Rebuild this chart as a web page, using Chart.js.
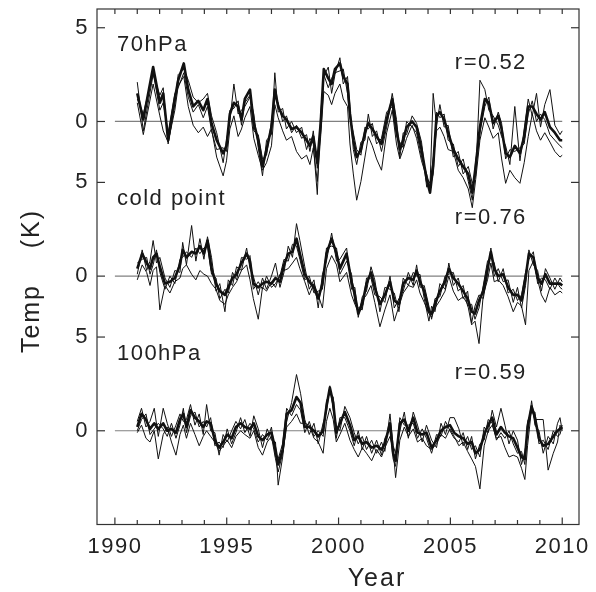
<!DOCTYPE html>
<html>
<head>
<meta charset="utf-8">
<script src="https://cdn.jsdelivr.net/npm/chart.js@4.4.0/dist/chart.umd.min.js"></script>
<style>
  body { margin: 0; background: #fff; }
  #caja { width: 596px; height: 592px; }
</style>
</head>
<body>
<div id="caja"><canvas id="grafico" width="596" height="592"></canvas></div>
<script>
// años de las marcas del eje x y del eje y
const xTicks = [1990, 1995, 2000, 2005, 2010];
const panelNames = ['70hPa', 'cold point', '100hPa'];
const rLabels = ['r=0.52', 'r=0.76', 'r=0.59'];
const panelOffsets = [16.5, 8.25, 0];
const yTickVals = [0, 5, 8.25, 13.25, 16.5, 21.5];
const yTickLabels = ['0', '5', '0', '5', '0', '5'];

// 70hPa
const t70 = [1991.00,1991.27,1991.71,1992.01,1992.16,1992.38,1992.68,1992.83,1993.08,1993.28,
  1993.50,1993.73,1993.95,1994.14,1994.32,1994.55,1994.84,1994.99,1995.14,1995.32,
  1995.51,1995.66,1995.81,1996.04,1996.21,1996.41,1996.60,1996.78,1997.00,1997.15,
  1997.30,1997.50,1997.67,1997.90,1998.12,1998.35,1998.57,1998.72,1998.87,1999.05,
  1999.20,1999.34,1999.54,1999.69,1999.84,2000.06,2000.21,2000.40,2000.51,2000.66,
  2000.81,2001.00,2001.18,2001.33,2001.51,2001.70,2001.92,2002.15,2002.40,2002.59,
  2002.74,2002.89,2003.04,2003.29,2003.49,2003.71,2003.94,2004.09,2004.23,2004.38,
  2004.53,2004.72,2004.90,2005.13,2005.35,2005.57,2005.80,2005.98,2006.13,2006.32,
  2006.54,2006.72,2006.91,2007.14,2007.29,2007.47,2007.66,2007.88,2008.11,2008.30,
  2008.48,2008.66,2008.85,2009.03,2009.22,2009.45,2009.67,2009.90,2010.00];
const thick70 = [1.5,0.1,2.9,1.0,1.5,-1.0,1.2,2.2,3.1,1.7,
  0.8,1.1,0.6,1.2,-0.1,-1.0,-1.7,-1.3,0.4,1.0,
  0.8,0.1,1.2,1.7,-0.1,-1.0,-2.4,-1.5,-0.3,1.7,
  0.8,0.3,0.1,-0.4,-0.3,-0.6,-1.0,-1.3,-0.8,-2.2,
  -0.1,2.8,2.3,2.0,2.8,3.1,2.4,2.0,0.4,-1.0,
  -1.9,-1.5,-0.6,-0.1,-0.4,-0.8,-1.2,0.1,1.2,-0.4,
  -1.5,-1.0,-0.3,0.0,-0.3,-1.5,-3.1,-3.8,-2.4,0.3,
  0.5,0.1,-0.6,-1.5,-2.0,-2.4,-2.8,-3.8,-2.4,-0.3,
  1.2,1.0,-0.1,0.3,-0.4,-1.7,-1.9,-1.3,-1.7,-0.8,
  0.8,0.8,0.4,0.1,0.5,-0.3,-0.6,-1.0,-1.0];
const thinA70 = [2.1,-0.5,2.5,1.4,1.8,-1.2,1.0,2.5,2.8,2.2,
  1.3,1.0,1.2,1.5,0.3,-0.6,-2.2,-1.0,0.0,2.0,
  0.4,0.6,0.8,1.3,0.4,-1.4,-2.9,-1.0,-0.7,2.6,
  0.5,0.7,-0.4,0.0,-0.6,-0.3,-1.5,-0.9,-1.2,-3.9,
  0.4,2.4,2.9,1.5,2.5,3.4,2.0,2.4,0.8,-1.5,
  -2.3,-1.1,-1.0,0.4,-0.8,-0.5,-1.6,-0.3,1.5,0.1,
  -1.9,-0.6,-0.7,0.3,-0.1,-1.1,-3.5,-3.4,1.5,-0.2,
  0.9,-0.3,-0.2,-1.9,-1.6,-2.8,-2.4,-3.3,-2.9,2.2,
  1.7,0.6,0.3,-0.2,-0.8,-1.3,-2.3,0.8,-2.1,-0.4,
  1.2,0.3,1.5,-0.3,0.9,1.7,-0.2,-0.7,-0.5];
const thinB70 = [1.2,0.4,2.6,0.6,1.0,-0.6,1.5,1.8,2.6,1.3,
  0.5,0.9,0.2,0.8,-0.5,-1.5,-1.4,-1.6,0.6,0.7,
  1.1,-0.2,1.0,1.4,-0.5,-0.7,-2.0,-1.8,0.0,1.3,
  1.0,0.0,0.3,-0.6,-0.2,-0.9,-0.7,-1.6,-0.5,-2.5,
  -0.3,2.5,1.8,2.3,2.6,2.7,2.8,1.5,0.2,-0.6,
  -1.5,-1.8,-0.3,-0.4,-0.1,-1.2,-0.9,0.5,0.8,-0.8,
  -1.1,-1.4,0.0,-0.3,-0.6,-1.9,-2.8,-3.5,-2.8,0.5,
  0.2,0.4,-1.0,-1.2,-2.4,-2.0,-3.2,-4.2,-2.1,-0.6,
  0.8,1.3,-0.4,0.5,-0.1,-2.0,-1.5,-1.6,-1.4,-1.2,
  0.4,1.1,0.0,0.4,0.1,-0.7,-1.0,-1.3,-1.4];
const thinC70 = [1.0,-0.7,2.0,0.3,-0.5,-1.1,0.6,1.9,2.4,0.8,
  -0.2,-0.6,-0.3,-0.8,-0.4,-1.9,-2.9,-2.1,-0.4,0.3,
  -0.8,-0.4,0.2,0.8,-0.9,-1.8,-2.6,-2.2,-1.3,0.9,
  0.2,-0.5,-1.0,-0.8,-1.6,-2.0,-1.8,-2.3,-1.4,-3.2,
  -0.8,1.6,1.4,0.9,1.5,2.0,1.2,0.8,-1.2,-2.8,
  -4.2,-3.2,-1.9,-0.8,-1.3,-2.0,-2.6,-0.6,0.6,-1.2,
  -2.0,-1.5,-0.9,-0.2,-0.9,-2.1,-3.0,-3.3,-2.0,-0.5,
  -0.3,-0.8,-1.5,-1.6,-2.6,-3.0,-3.6,-4.6,-3.1,-1.0,
  0.2,-0.3,-0.9,-0.6,-2.0,-3.3,-2.6,-3.0,-3.3,-2.2,
  -0.8,0.4,-0.5,-1.0,-0.6,-1.1,-1.6,-1.9,-1.8];

// cold point
const tCp = [1991.00,1991.22,1991.42,1991.57,1991.71,1991.86,1992.01,1992.24,1992.46,1992.68,
  1992.91,1993.03,1993.20,1993.43,1993.62,1993.80,1993.98,1994.14,1994.32,1994.52,
  1994.69,1994.92,1995.07,1995.26,1995.44,1995.66,1995.89,1996.04,1996.19,1996.41,
  1996.60,1996.78,1997.00,1997.18,1997.38,1997.56,1997.75,1997.94,1998.12,1998.27,
  1998.49,1998.69,1998.90,1999.09,1999.28,1999.46,1999.69,1999.91,2000.06,2000.36,
  2000.58,2000.73,2000.88,2001.06,2001.25,2001.45,2001.62,2001.85,2002.07,2002.30,
  2002.49,2002.70,2002.89,2003.12,2003.34,2003.49,2003.64,2003.83,2004.04,2004.16,
  2004.31,2004.53,2004.76,2004.93,2005.13,2005.35,2005.57,2005.77,2005.95,2006.10,
  2006.28,2006.47,2006.66,2006.81,2006.96,2007.14,2007.36,2007.58,2007.81,2008.00,
  2008.18,2008.36,2008.51,2008.71,2008.90,2009.07,2009.25,2009.45,2009.67,2009.90,
  2010.00];
const thickCp = [0.4,1.2,0.7,0.4,1.0,1.2,0.5,-0.4,-0.3,-0.1,
  0.6,1.4,1.0,1.3,1.2,1.6,1.2,1.9,0.4,-0.4,
  -0.8,-1.0,-0.6,-0.1,0.1,0.7,1.2,0.8,-0.4,-0.6,
  -0.4,-0.3,-0.4,-0.1,-0.3,0.6,1.2,1.3,2.0,1.2,
  0.1,-0.3,-0.6,-1.2,-0.4,1.2,2.0,1.2,0.4,1.2,
  -0.3,-1.0,-2.0,-1.5,-0.4,0.2,-0.6,-1.5,-1.0,-0.3,
  -1.3,-1.5,-0.4,-0.1,-0.2,0.3,-0.3,-0.8,-1.9,-2.0,
  -1.5,-0.8,-0.3,0.4,-0.1,-0.4,-0.8,-1.2,-1.9,-2.0,
  -1.3,-0.8,0.4,1.3,0.4,0.0,0.1,-0.6,-1.0,-1.0,
  -1.3,-0.1,1.2,1.0,-0.1,-0.4,0.1,-0.4,-0.4,-0.4,
  -0.5];
const thinACp = [0.1,1.4,0.3,0.8,1.9,0.7,1.0,-0.1,-0.6,0.3,
  0.2,1.8,0.6,2.7,0.8,2.0,0.9,2.1,1.0,-0.8,
  -0.4,-1.9,-0.2,-0.5,0.5,0.3,1.5,0.4,0.0,-1.0,
  -0.1,-0.7,0.0,0.7,-0.6,0.2,1.6,1.0,2.8,1.9,
  0.5,-0.7,-0.2,-1.7,0.1,0.8,2.3,0.8,0.9,1.5,
  -0.7,-0.6,-2.2,-1.1,-0.8,0.5,-0.2,-1.9,-0.6,-0.7,
  -0.9,-1.9,-0.1,-0.5,0.2,0.0,0.1,-1.2,-2.4,-1.6,
  -1.9,-0.4,-0.7,0.7,-0.5,-0.1,-1.2,-0.8,-2.5,-1.6,
  -1.0,-1.2,0.1,1.5,0.0,0.4,-0.3,-0.2,-1.4,-0.6,
  -1.7,-0.5,1.4,0.6,0.3,-0.8,0.4,-0.1,-0.7,-0.1,
  -0.3];
const thinBCp = [0.7,0.9,1.0,0.1,0.6,1.4,0.2,-0.7,0.0,-0.4,
  0.9,1.0,1.3,1.0,1.5,1.2,1.5,1.6,0.1,-0.1,
  -1.2,-0.7,-0.9,0.2,-0.2,1.0,0.9,1.1,-0.7,-0.3,
  -0.7,0.0,-0.6,-0.4,0.0,0.9,0.8,1.7,1.6,0.9,
  -0.2,0.0,-0.9,-0.8,-0.7,1.5,1.6,1.5,0.1,0.8,
  0.1,-1.4,-1.7,-1.8,-0.1,-0.1,-1.0,-1.1,-1.4,0.0,
  -1.7,-1.2,-0.8,0.2,-0.5,0.6,-0.6,-0.5,-1.6,-2.3,
  -1.2,-1.1,0.0,0.1,0.2,-0.8,-0.5,-1.6,-1.5,-2.3,
  -1.7,-0.5,0.8,1.0,0.7,-0.3,0.4,-0.9,-0.7,-1.3,
  -1.0,0.2,0.9,1.3,-0.4,-0.1,-0.2,-0.7,-0.1,-0.6,
  -0.7];
const thinCCp = [-0.2,0.6,0.2,-0.5,0.3,0.5,-1.8,-0.5,-0.9,-0.3,
  -0.1,0.4,0.6,0.1,-0.2,0.3,0.1,0.0,-0.4,-0.7,
  -1.3,-1.5,-1.0,-0.6,-0.3,0.3,0.6,-0.2,-1.2,-2.3,
  -0.6,-0.8,-0.3,-0.6,0.1,0.3,0.4,0.7,1.0,0.4,
  -0.3,-1.0,-0.4,-1.0,-1.7,0.4,1.1,0.6,-0.3,0.2,
  -1.0,-1.5,-1.9,-1.3,-1.0,-0.5,-1.4,-2.7,-1.8,-1.0,
  -2.4,-1.6,-0.9,-0.5,-0.6,-0.2,-0.9,-1.4,-2.0,-2.2,
  -1.7,-1.3,-0.8,0.0,-0.8,-1.3,-1.1,-1.5,-2.6,-2.4,
  -3.6,-1.0,-0.2,0.7,-0.3,-0.2,-0.5,-1.1,-1.9,-1.4,
  -1.6,-2.6,0.3,0.8,-0.2,-1.0,-1.4,-0.6,-1.0,-0.8,
  -0.9];

// 100hPa
const t100 = [1991.00,1991.19,1991.39,1991.57,1991.76,1991.94,1992.16,1992.34,1992.53,1992.73,
  1992.91,1993.06,1993.20,1993.38,1993.58,1993.77,1993.95,1994.10,1994.28,1994.47,
  1994.66,1994.84,1995.02,1995.22,1995.41,1995.62,1995.81,1996.04,1996.21,1996.41,
  1996.60,1996.81,1997.00,1997.18,1997.30,1997.50,1997.68,1997.90,1998.12,1998.30,
  1998.49,1998.69,1998.90,1999.09,1999.31,1999.46,1999.61,1999.76,1999.90,2000.06,
  2000.28,2000.51,2000.70,2000.88,2001.06,2001.25,2001.48,2001.70,2001.92,2002.07,
  2002.30,2002.44,2002.55,2002.74,2002.94,2003.12,2003.34,2003.53,2003.74,2003.93,
  2004.16,2004.38,2004.58,2004.78,2004.98,2005.17,2005.38,2005.57,2005.77,2005.95,
  2006.12,2006.32,2006.51,2006.69,2006.87,2007.06,2007.26,2007.44,2007.62,2007.81,
  2008.00,2008.18,2008.33,2008.45,2008.63,2008.78,2008.96,2009.15,2009.37,2009.60,
  2009.79,2009.90,2010.00];
const thick100 = [0.2,0.9,0.6,0.1,0.4,0.1,0.4,0.0,0.1,-0.1,
  0.6,0.9,0.2,1.1,0.7,0.5,0.2,0.5,0.4,-0.5,
  -0.9,-0.6,-0.2,-0.4,0.2,0.4,0.2,0.1,0.4,-0.3,
  -0.5,-0.2,-0.1,-1.0,-1.8,-1.0,0.9,1.1,1.8,1.5,
  0.2,0.2,0.0,-0.3,0.0,1.3,2.3,1.5,-0.1,0.4,
  1.0,0.3,-0.5,-0.3,-0.7,-0.6,-0.9,-0.8,-1.0,-0.7,
  0.4,-1.2,-1.6,0.4,0.6,0.0,0.7,-0.1,-0.2,-0.1,
  -0.9,-0.5,0.0,0.2,0.3,-0.1,-0.3,-0.4,-0.7,-0.6,
  -1.2,-1.0,-0.2,0.3,0.7,-0.2,0.2,-0.1,-0.3,-0.4,
  -0.9,-1.4,-1.5,0.2,1.3,0.7,-0.4,-0.8,-0.7,-0.3,
  0.0,0.1,0.2];
const thinA100 = [0.5,1.2,0.2,0.5,1.2,-0.3,1.2,0.4,-0.3,0.3,
  0.9,0.5,0.6,1.4,0.3,0.9,-0.2,1.4,0.0,-0.1,
  -1.3,-0.2,-0.6,0.0,0.5,0.1,0.6,-0.3,0.8,0.1,
  -0.9,0.1,-0.5,-0.6,-2.9,-1.4,0.5,1.5,3.0,2.0,
  0.6,-0.2,0.4,-0.7,0.4,1.0,2.4,1.1,0.3,0.0,
  1.3,0.7,-0.1,-0.7,-0.3,-1.0,-0.5,-1.2,-0.6,-1.1,
  0.9,-0.8,-1.2,0.0,1.0,-0.4,1.0,0.3,-0.6,0.3,
  -0.5,-0.9,0.4,-0.2,0.7,0.7,0.1,-0.8,-0.3,-1.0,
  -0.8,-1.4,0.2,-0.1,1.1,0.2,1.2,0.3,-0.7,0.0,
  -0.5,-1.8,-1.1,-0.2,1.6,0.3,0.0,-1.2,-0.3,-0.7,
  0.4,0.7,0.0];
const thinB100 = [0.0,0.6,0.9,-0.2,0.1,0.4,0.1,-0.3,0.4,-0.4,
  0.3,1.2,-0.1,0.8,1.0,0.2,0.5,0.2,0.7,-0.8,
  -0.6,-0.9,0.1,-0.7,-0.1,0.7,-0.1,0.4,0.1,-0.6,
  -0.2,-0.5,0.2,-1.4,-1.5,-0.7,1.2,0.8,1.4,1.1,
  -0.1,0.5,-0.3,0.0,-0.3,1.6,2.0,1.8,-0.4,0.7,
  0.7,0.0,-0.8,0.0,-1.0,-0.3,-1.2,-0.5,-1.3,-0.4,
  0.1,-1.5,-1.9,0.7,0.3,0.3,0.4,-0.4,0.1,-0.4,
  -1.2,-0.2,-0.3,0.5,0.0,-0.4,-0.6,-0.1,-1.0,-0.3,
  -1.5,-0.7,-0.5,0.6,0.4,-0.5,-0.1,-0.4,0.0,-0.7,
  -1.2,-1.1,-1.8,0.5,1.0,1.0,-0.7,-0.5,-1.0,0.0,
  -0.3,-0.2,0.3];
const thinC100 = [-0.1,0.3,-0.4,-0.6,0.0,-1.5,-0.2,0.2,-0.6,-1.3,
  -0.2,0.3,-0.4,0.4,-0.2,-0.8,-0.3,0.0,-0.3,-0.6,
  -1.1,-0.8,-0.5,-0.9,-0.3,0.0,-0.2,-0.4,0.0,-0.9,
  -1.3,-0.6,-0.3,-1.5,-2.2,-1.2,0.2,0.5,0.9,0.4,
  0.4,0.3,-0.4,-0.6,-1.2,0.5,1.2,0.6,-0.6,-0.2,
  0.4,-0.5,-1.0,-1.4,-0.9,-1.2,-1.6,-1.0,-1.4,-0.9,
  -0.3,-1.0,-2.5,-0.5,0.2,-0.3,0.1,-0.6,-0.4,-0.8,
  -1.0,-0.7,-0.2,-0.4,0.1,-0.3,-0.8,-0.6,-1.1,-1.5,
  -1.9,-3.1,-0.8,0.0,0.3,-0.4,-0.3,-0.9,-1.4,-1.3,
  -1.4,-2.0,-2.6,-0.8,1.2,0.6,0.6,0.6,-2.1,-1.2,
  -0.6,0.3,0.1];

const fuente = '"Liberation Sans", Arial, sans-serif';

function serie(t, v, off) {
    return t.map(function(x, i) { return { x: x, y: v[i] + off }; });
}

function linea(t, v, off, grueso) {
    return {
        data: serie(t, v, off),
        borderColor: '#111',
        borderWidth: grueso ? 2.6 : 1,
        borderJoinStyle: 'round',
        pointRadius: 0,
        tension: 0
    };
}

var paneles = [
    [t70, thick70, thinA70, thinB70, thinC70],
    [tCp, thickCp, thinACp, thinBCp, thinCCp],
    [t100, thick100, thinA100, thinB100, thinC100]
];

var conjuntos = [];
paneles.forEach(function(p, i) {
    var off = panelOffsets[i];
    conjuntos.push(linea(p[0], p[1], off, true));
    conjuntos.push(linea(p[0], p[2], off, false));
    conjuntos.push(linea(p[0], p[3], off, false));
    conjuntos.push(linea(p[0], p[4], off, false));
});
// lineas de cero, debajo de todo
panelOffsets.forEach(function(off) {
    conjuntos.push({
        data: [{ x: 1990, y: off }, { x: 2010, y: off }],
        borderColor: '#808080',
        borderWidth: 1.2,
        pointRadius: 0
    });
});

const marco = {
    id: 'marco',
    beforeDraw(chart) {
        // el texto del original va algo espaciado
        chart.ctx.letterSpacing = '1.5px';
    },
    afterDraw(chart) {
        const ctx = chart.ctx;
        const a = chart.chartArea;
        const x = chart.scales.x, y = chart.scales.y;
        ctx.save();
        ctx.strokeStyle = '#333';
        ctx.lineWidth = 1.2;
        ctx.strokeRect(a.left, a.top, a.right - a.left, a.bottom - a.top);

        function raya(x1, y1, x2, y2) {
            ctx.beginPath(); ctx.moveTo(x1, y1); ctx.lineTo(x2, y2); ctx.stroke();
        }
        for (var yr = 1990; yr <= 2010; yr++) {
            var px = x.getPixelForValue(yr);
            var largo = yr % 5 === 0 ? 7 : 4.5;
            raya(px, a.bottom, px, a.bottom - largo);
            raya(px, a.top, px, a.top + 5);
        }
        yTickVals.forEach(function(v) {
            var py = y.getPixelForValue(v);
            raya(a.left, py, a.left + 8, py);
            raya(a.right, py, a.right - 8, py);
        });

        ctx.fillStyle = '#222';
        ctx.textBaseline = 'middle';
        ctx.letterSpacing = '1.5px';
        ctx.font = '22px ' + fuente;
        ctx.textAlign = 'left';
        panelNames.forEach(function(n, i) {
            ctx.fillText(n, x.getPixelForValue(1990.09), y.getPixelForValue(panelOffsets[i] + 4.1));
        });
        rLabels.forEach(function(n, i) {
            ctx.fillText(n, x.getPixelForValue(2005.2), y.getPixelForValue(panelOffsets[i] + 3.1));
        });

        // titulos de los ejes
        ctx.font = '25px ' + fuente;
        ctx.letterSpacing = '2px';
        ctx.textAlign = 'center';
        ctx.fillText('Year', 377, 579);
        ctx.translate(32, 281);
        ctx.rotate(-Math.PI / 2);
        ctx.fillText('Temp    (K)', 0, 0);
        ctx.restore();
    }
};

new Chart(document.getElementById('grafico'), {
    type: 'line',
    data: { datasets: conjuntos },
    options: {
        responsive: false,
        animation: false,
        events: [],
        layout: { autoPadding: false, padding: { left: 0, right: 17, top: 9, bottom: 0 } },
        plugins: { legend: { display: false }, tooltip: { enabled: false } },
        scales: {
            x: {
                type: 'linear',
                min: 1989.2,
                max: 2010.75,
                afterFit: function(s) {
                    s.height = 67.5;
                    s.paddingLeft = 0; s.paddingRight = 0;
                },
                afterBuildTicks: function(s) { s.ticks = xTicks.map(function(v) { return { value: v }; }); },
                grid: { display: false, drawTicks: false },
                border: { display: false },
                ticks: {
                    font: { family: fuente, size: 22 },
                    color: '#222',
                    padding: 9,
                    autoSkip: false,
                    maxRotation: 0,
                    callback: function(v) { return String(v); }
                }
            },
            y: {
                type: 'linear',
                min: -5,
                max: 22.5,
                afterFit: function(s) {
                    s.width = 97;
                    s.paddingTop = 0; s.paddingBottom = 0;
                },
                afterBuildTicks: function(s) { s.ticks = yTickVals.map(function(v) { return { value: v }; }); },
                grid: { display: false, drawTicks: false },
                border: { display: false },
                ticks: {
                    font: { family: fuente, size: 22 },
                    color: '#222',
                    padding: 8,
                    autoSkip: false,
                    callback: function(v, i) { return yTickLabels[i]; }
                }
            }
        }
    },
    plugins: [marco]
});
</script>
</body>
</html>
